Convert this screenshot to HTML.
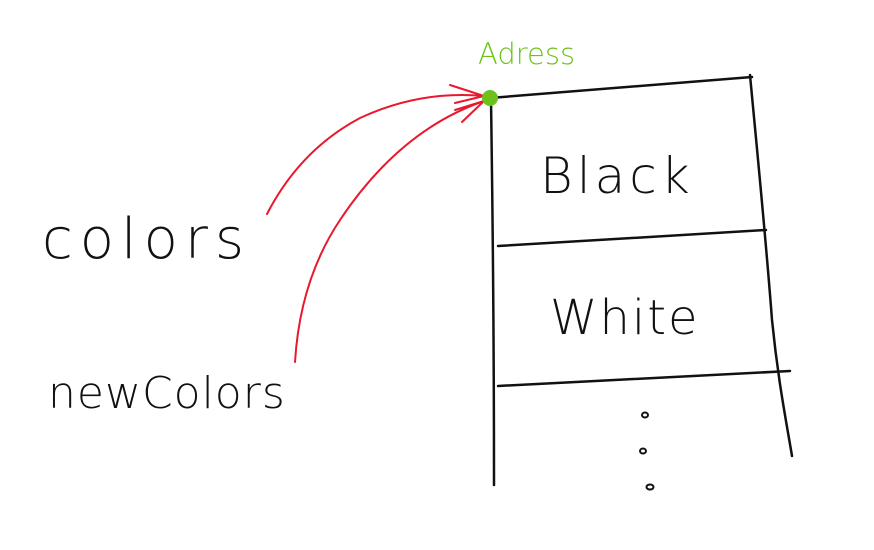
<!DOCTYPE html>
<html><head><meta charset="utf-8"><style>
html,body{margin:0;padding:0;background:#fff;}
svg{display:block;}
text{font-family:"DejaVu Sans","Liberation Sans",sans-serif;}
</style></head><body>
<svg width="874" height="550" viewBox="0 0 874 550" xmlns="http://www.w3.org/2000/svg">
<g fill="none" stroke="#111" stroke-width="2.5" stroke-linecap="round">
<path d="M490 98 L752 77"/>
<path d="M750 75 C758 160 766 240 772 320 C778 380 786 420 792 456"/>
<path d="M491 100 Q494 300 494 485"/>
<path d="M498 246 L766 230"/>
<path d="M498 386 L790 371"/>
</g>
<g fill="none" stroke="#e8192c" stroke-width="2" stroke-linecap="round">
<path d="M267 214 Q300 150 360 118 Q420 90 484 96"/>
<path d="M450 85 L484 96 L455 103"/>
<path d="M295 362 Q300 280 340 220 Q400 130 484 101"/>
<path d="M455 110 L484 101 L462 122"/>
</g>
<circle cx="490" cy="98" r="8" fill="#6cc21a"/>
<text x="478" y="64" font-size="29" fill="#6cc21a" font-weight="300">Adress</text>
<text x="540" y="193" font-size="50" fill="#111" font-weight="300" letter-spacing="4">Black</text>
<text x="550" y="334" font-size="48" fill="#111" font-weight="300" letter-spacing="2">White</text>
<text x="42" y="258" font-size="56" fill="#111" font-weight="300" letter-spacing="7">colors</text>
<text x="48" y="408" font-size="44" fill="#111" font-weight="300" letter-spacing="1">newColors</text>
<g fill="none" stroke="#111" stroke-width="2">
<ellipse cx="645" cy="415" rx="3" ry="2.5"/>
<ellipse cx="643" cy="451" rx="3" ry="2.5"/>
<ellipse cx="650" cy="487" rx="3.5" ry="2.5"/>
</g>
</svg>
</body></html>
